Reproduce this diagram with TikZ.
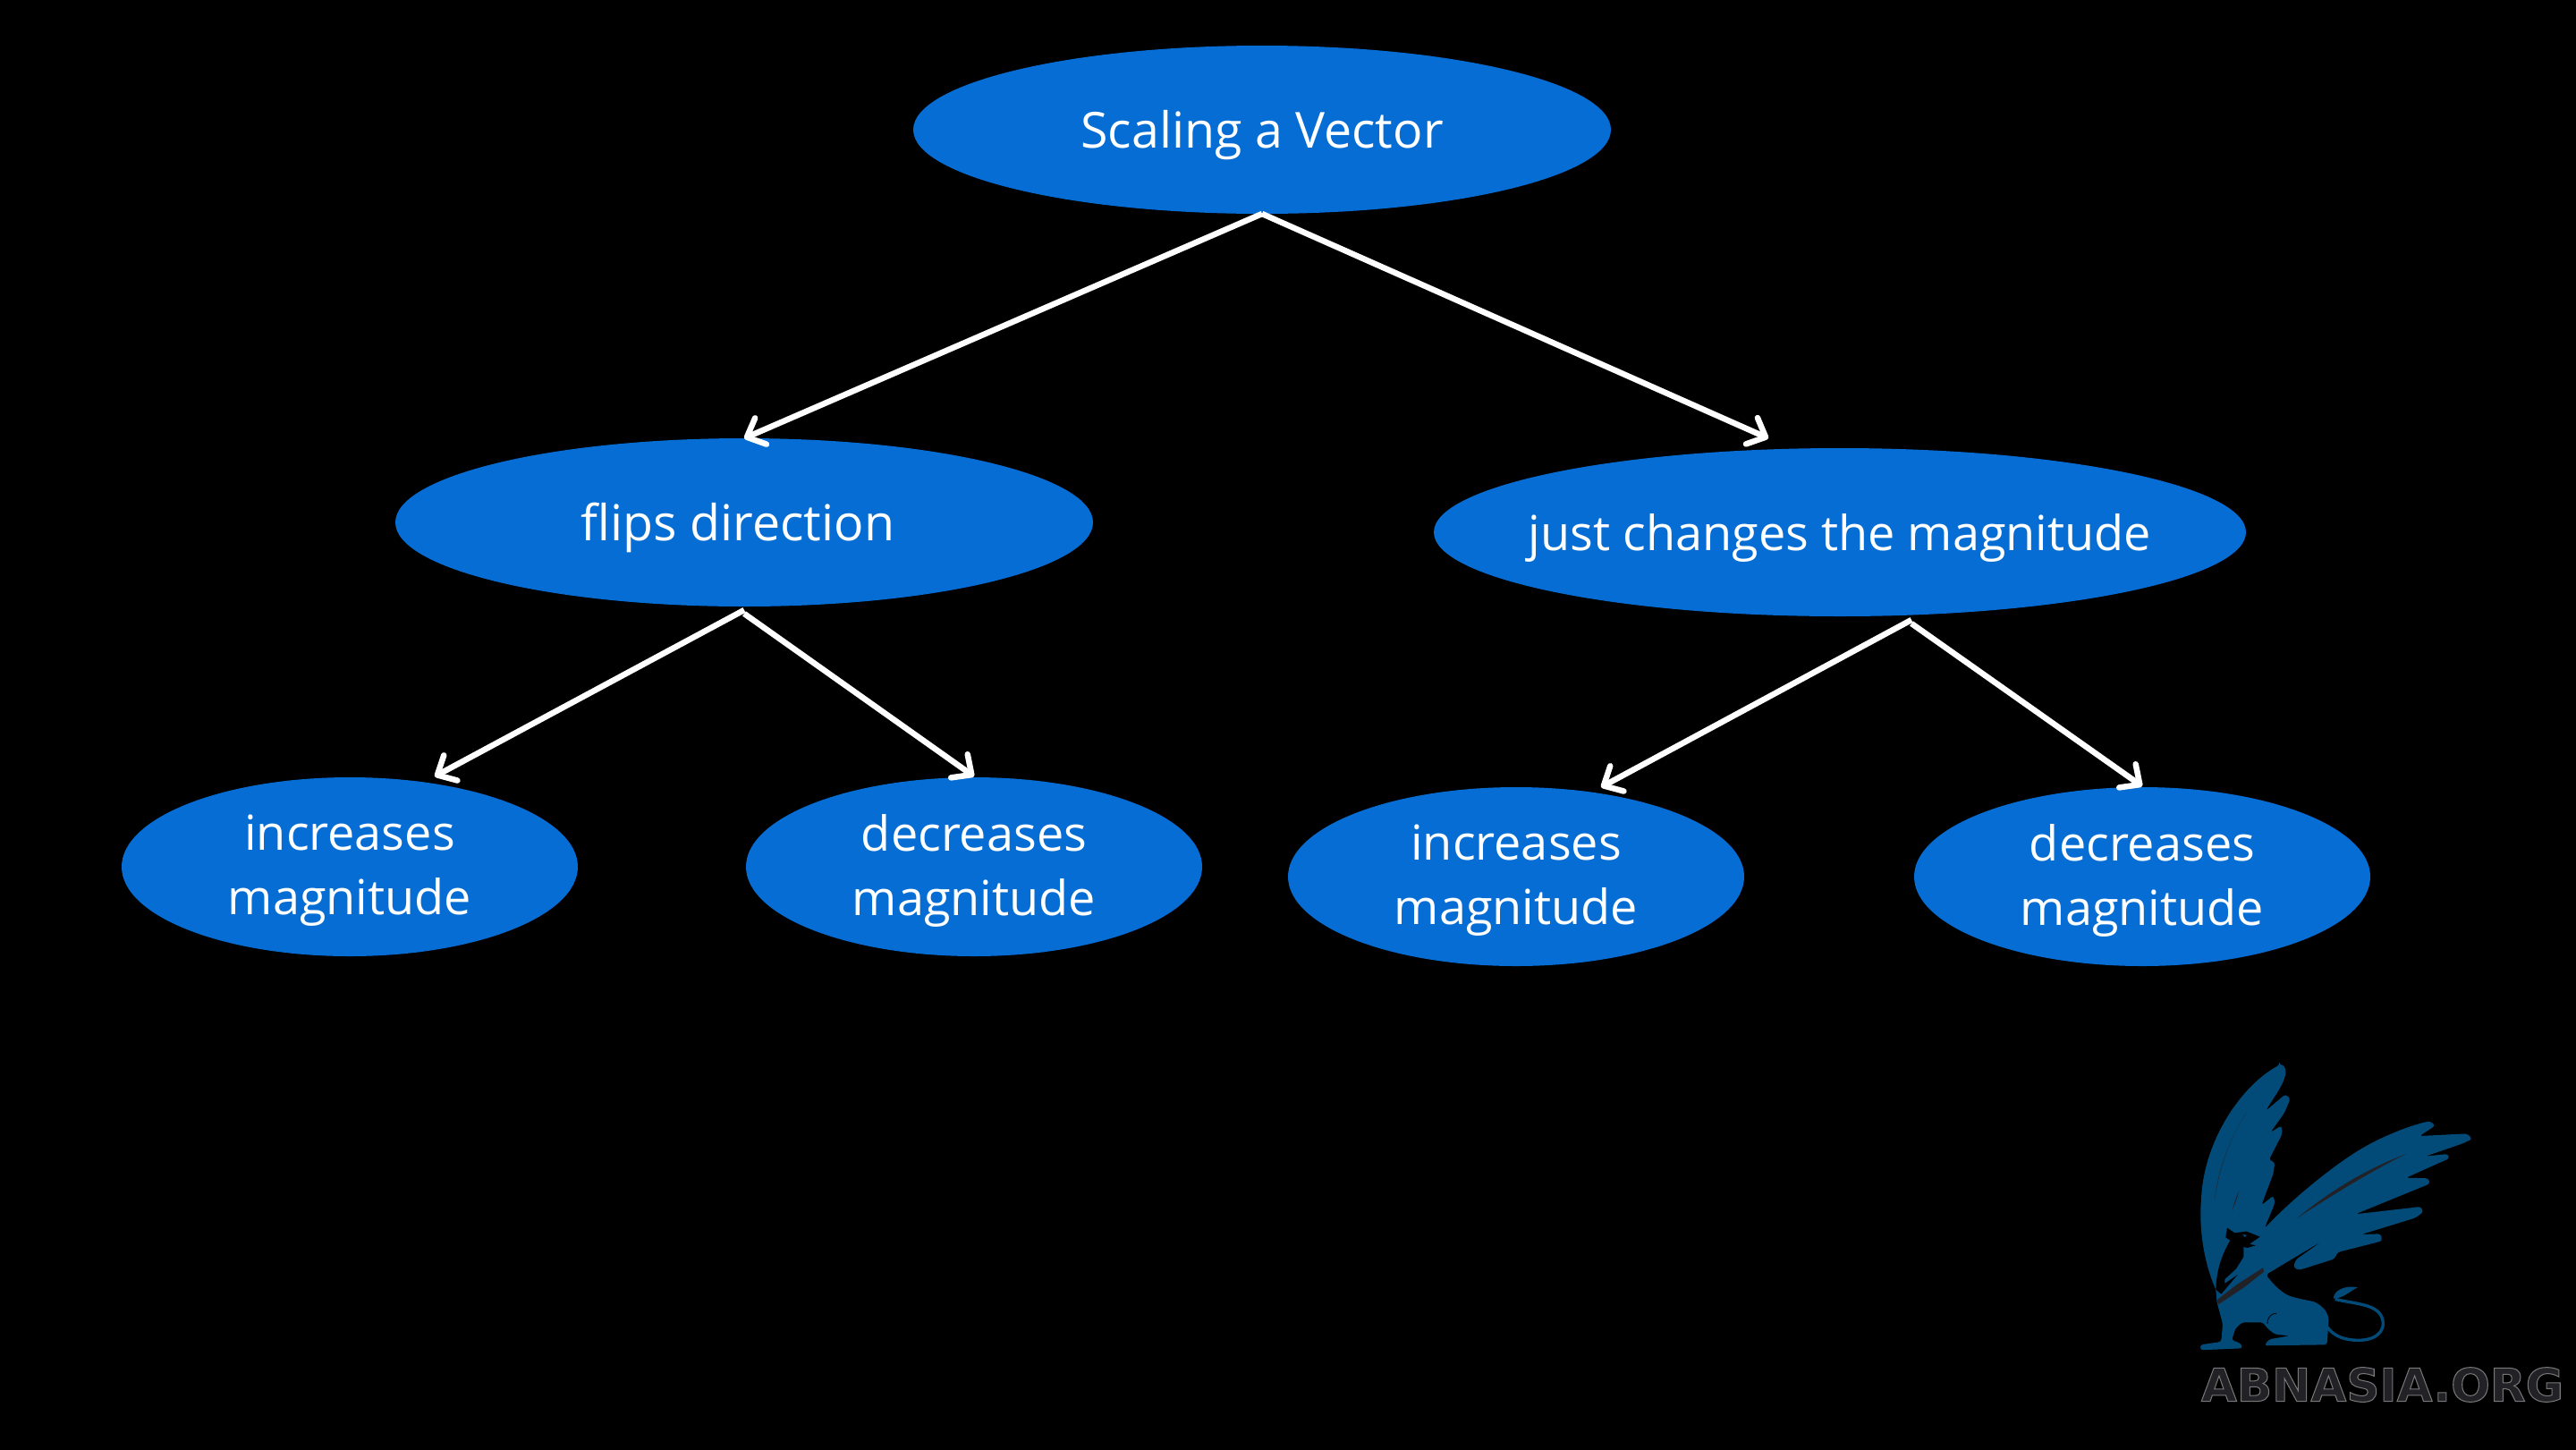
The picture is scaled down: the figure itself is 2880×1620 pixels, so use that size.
\documentclass[tikz,border=0pt]{standalone}
\usepackage{fontspec}
\usepackage{graphicx}
\setmainfont{Open Sans}
\newfontfamily\logofont{DejaVu Sans}
\definecolor{nodeblue}{HTML}{066DD5}
\definecolor{logoblue}{HTML}{024A77}
\definecolor{logodark}{HTML}{222226}
\usetikzlibrary{shapes.geometric,arrows.meta}
\tikzset{
  bubble/.style={ellipse,fill=nodeblue,inner sep=0pt,outer sep=0pt},
  caption/.style={text=white,align=center,inner sep=0pt,font=\fontsize{54}{72}\selectfont},
  bigcaption/.style={text=white,align=center,inner sep=0pt,font=\fontsize{55.5}{72}\selectfont},
  link/.style={draw=white,line width=6.5pt,-{Straight Barb[length=17pt,width=32pt,line width=6.5pt,round]}},
}
\begin{document}
\begin{tikzpicture}[x=1pt,y=-1pt]
\useasboundingbox (0,0) rectangle (2880,1620);
\fill[black] (-5,-5) rectangle (2890,1630);
\node[bubble,minimum width=780pt,minimum height=188pt,label={[bigcaption,yshift=-6pt]center:Scaling a Vector}] (root) at (1411,145) {};
\node[bubble,minimum width=780pt,minimum height=188pt,label={[bigcaption,xshift=-7pt,yshift=-6pt]center:flips direction}] (flips) at (832,584) {};
\node[bubble,minimum width=908pt,minimum height=188pt,label={[caption,yshift=-6pt]center:just changes the magnitude}] (just) at (2057,595) {};
\node[bubble,minimum width=510pt,minimum height=200pt,label={[caption,yshift=-4pt]center:{increases\\magnitude}}] (inca) at (391,969) {};
\node[bubble,minimum width=510pt,minimum height=200pt,label={[caption,yshift=-4pt]center:{decreases\\magnitude}}] (deca) at (1089,969) {};
\node[bubble,minimum width=510pt,minimum height=200pt,label={[caption,yshift=-4pt]center:{increases\\magnitude}}] (incb) at (1695,980) {};
\node[bubble,minimum width=510pt,minimum height=200pt,label={[caption,yshift=-4pt]center:{decreases\\magnitude}}] (decb) at (2395,980) {};
\coordinate (rootout) at (1411,239);
\coordinate (flipsin) at (832,490);
\coordinate (justin) at (1977,490);
\coordinate (flipsoutl) at (832,682);
\coordinate (flipsoutr) at (832,686);
\coordinate (justoutl) at (2137,693);
\coordinate (justoutr) at (2137,697);
\coordinate (incain) at (486,868);
\coordinate (decain) at (1089,868);
\coordinate (incbin) at (1790,880);
\coordinate (decbin) at (2395,879);
\draw[link] (rootout) -- (flipsin);
\draw[link] (rootout) -- (justin);
\draw[link] (flipsoutl) -- (incain);
\draw[link] (flipsoutr) -- (decain);
\draw[link] (justoutl) -- (incbin);
\draw[link] (justoutr) -- (decbin);
% griffin, traced
\begin{scope}[shift={(2400,1160)},x=0.3333pt,y=-0.3333pt]
\fill[logoblue,rounded corners=3pt]
 (445,92) .. controls (462,92) and (470,112) .. (462,135)
 .. controls (450,170) and (420,210) .. (400,245)
 -- (465,190) -- (482,205) -- (462,252) -- (415,318) -- (452,295) -- (455,322) -- (410,410)
 -- (430,418) -- (425,455) -- (385,562) -- (425,530) -- (430,555) -- (395,640)
 .. controls (480,550) and (600,450) .. (700,385)
 .. controls (780,335) and (880,295) .. (950,280)
 -- (968,295) -- (915,330) -- (1075,322) -- (1092,340) -- (1060,355) -- (935,398) -- (1010,390) -- (1015,405) -- (870,470)
 -- (945,472) -- (950,490) -- (700,592) -- (920,567) -- (928,585) -- (900,605) -- (720,660)
 -- (785,658) -- (790,682) -- (640,720) -- (630,742) -- (510,780) -- (492,770)
 -- (500,745) -- (592,680) -- (500,735) -- (400,795)
 .. controls (430,835) and (460,860) .. (490,870)
 .. controls (530,880) and (560,885) .. (570,890)
 .. controls (600,910) and (610,930) .. (610,955)
 -- (605,1030)
 -- (395,1033) -- (410,1012) -- (480,1000) -- (430,995) -- (405,975) -- (390,955)
 -- (320,955) -- (298,975) -- (285,1015) -- (315,1025) -- (322,1042) -- (180,1048) -- (180,1030) -- (250,1020)
 -- (255,960) -- (235,885) -- (232,845)
 .. controls (195,760) and (175,650) .. (183,540)
 .. controls (195,340) and (320,160) .. (445,92) -- cycle;
% head and neck silhouette
\fill[black]
 (270,638) -- (295,655) -- (335,650) -- (380,668) -- (345,692) -- (365,697) -- (338,705) -- (325,702) -- (325,735)
 -- (300,775) -- (262,810) -- (262,825) -- (305,795) -- (250,860) -- (232,845)
 .. controls (235,770) and (255,725) .. (280,680) -- (265,670) -- cycle;
\fill[logoblue] (322,660) -- (335,662) -- (330,670) -- cycle;
\fill[logodark] (390,772) -- (393,785) -- (330,835) -- (240,895) -- (236,880) -- (300,830) -- cycle;
\fill[logodark] (335,250) .. controls (290,320) and (245,420) .. (228,545) .. controls (240,430) and (285,330) .. (335,250) -- cycle;
\fill[logodark] (310,515) .. controls (300,535) and (292,555) .. (288,580) .. controls (296,555) and (305,535) .. (310,515) -- cycle;
\fill[logodark] (870,390) .. controls (740,440) and (620,510) .. (505,605) .. controls (620,530) and (740,455) .. (870,390) -- cycle;
\draw[black,line width=0.8pt] (405,960) .. controls (405,935) and (420,925) .. (435,925);
\draw[logoblue,line width=3.4pt] (605,970) .. controls (630,1005) and (670,1015) .. (710,1015)
 .. controls (770,1015) and (795,985) .. (793,955)
 .. controls (790,925) and (770,910) .. (740,900)
 .. controls (700,888) and (660,885) .. (632,877);
\fill[logoblue] (627,875) .. controls (625,850) and (665,828) .. (708,838) .. controls (680,850) and (660,875) .. (627,875) -- cycle;
\end{scope}
\node[inner sep=0pt,text=logodark] (logo) at (2663.5,1548) {\resizebox{405pt}{38pt}{\logofont\bfseries\special{pdf:code 0.47 0.47 0.47 RG 2 Tr 0.2 w}ABNASIA.ORG\special{pdf:code 0 Tr}}};
\end{tikzpicture}
\end{document}
